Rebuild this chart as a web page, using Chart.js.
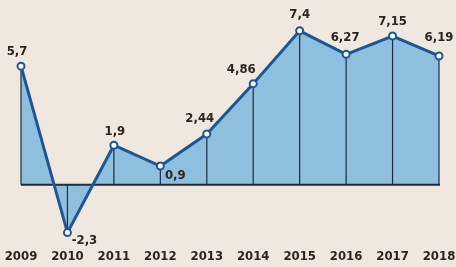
<!DOCTYPE html>
<html>
<head>
<meta charset="utf-8">
<script src="https://cdn.jsdelivr.net/npm/chart.js@4"></script>
<style>
  html, body { margin: 0; padding: 0; background: #f0e8df; }
  #wrap { width: 456px; height: 267px; }
</style>
</head>
<body>
<div id="wrap"><canvas id="growthChart" width="456" height="267"></canvas></div>
<script>
// Years and values
const years = ['2009', '2010', '2011', '2012', '2013', '2014', '2015', '2016', '2017', '2018'];
const values = [5.7, -2.3, 1.9, 0.9, 2.44, 4.86, 7.4, 6.27, 7.15, 6.19];

const FONT = "'DejaVu Sans Condensed', 'Liberation Sans Narrow', sans-serif";
const INK = '#2a2520';

// label nudges relative to each point (dx, dy)
const labelShift = [[-4, -15], [17, 8], [1, -14], [15, 10], [-7, -15], [-12, -14], [0, -16], [-1, -17], [0, -14], [0, -18]];

// thin line from each point down to zero, plus the zero line itself
// (runs after the filler so it sits on top of the blue area, under the line)
const dropLines = {
    id: 'dropLines',
    beforeDatasetDraw(chart) {
        const ctx = chart.ctx;
        const x = chart.scales.x, y = chart.scales.y;
        const y0 = y.getPixelForValue(0);
        ctx.save();
        ctx.strokeStyle = '#1d2b3c';
        ctx.lineWidth = 1.2;
        values.forEach((v, i) => {
            const px = x.getPixelForValue(i);
            ctx.beginPath();
            ctx.moveTo(px, y.getPixelForValue(v));
            ctx.lineTo(px, y0);
            ctx.stroke();
        });
        ctx.lineWidth = 2;
        ctx.beginPath();
        ctx.moveTo(x.getPixelForValue(0), y0);
        ctx.lineTo(x.getPixelForValue(values.length - 1) + 1, y0);
        ctx.stroke();
        ctx.restore();
    }
};

const valueLabels = {
    id: 'valueLabels',
    afterDatasetsDraw(chart) {
        const ctx = chart.ctx;
        const meta = chart.getDatasetMeta(0);
        ctx.save();
        ctx.fillStyle = INK;
        ctx.font = 'bold 13px ' + FONT;
        ctx.textAlign = 'center';
        ctx.textBaseline = 'middle';
        meta.data.forEach((pt, i) => {
            const s = labelShift[i];
            const txt = String(values[i]).replace('.', ',');
            ctx.fillText(txt, pt.x + s[0], pt.y + s[1]);
        });
        ctx.restore();
    }
};

function renderChart() {
    const ctx = document.getElementById('growthChart').getContext('2d');
    new Chart(ctx, {
        type: 'line',
        data: {
            labels: years,
            datasets: [{
                data: values,
                borderColor: '#1c5794',
                borderWidth: 3,
                backgroundColor: 'rgba(126, 183, 222, 0.85)',
                fill: 'origin',
                tension: 0,
                pointRadius: 3.5,
                pointBorderWidth: 2,
                pointBackgroundColor: '#ffffff',
                pointBorderColor: '#1c5794'
            }]
        },
        options: {
            responsive: false,
            animation: false,
            layout: { padding: { left: 21, right: 17, top: 10, bottom: 0 } },
            plugins: { legend: { display: false }, tooltip: { enabled: false } },
            scales: {
                x: {
                    offset: false,
                    grid: { display: false },
                    border: { display: false },
                    ticks: {
                        color: INK,
                        font: { family: FONT, size: 13, weight: 'bold' },
                        maxRotation: 0,
                        autoSkip: false,
                        padding: -2
                    },
                    afterFit(scale) {
                        scale.height = 24;
                        scale.paddingLeft = 0;
                        scale.paddingRight = 0;
                    }
                },
                y: {
                    display: false,
                    min: -2.8,
                    max: 8.4
                }
            }
        },
        plugins: [dropLines, valueLabels]
    });
}

window.onload = renderChart;
</script>
</body>
</html>
